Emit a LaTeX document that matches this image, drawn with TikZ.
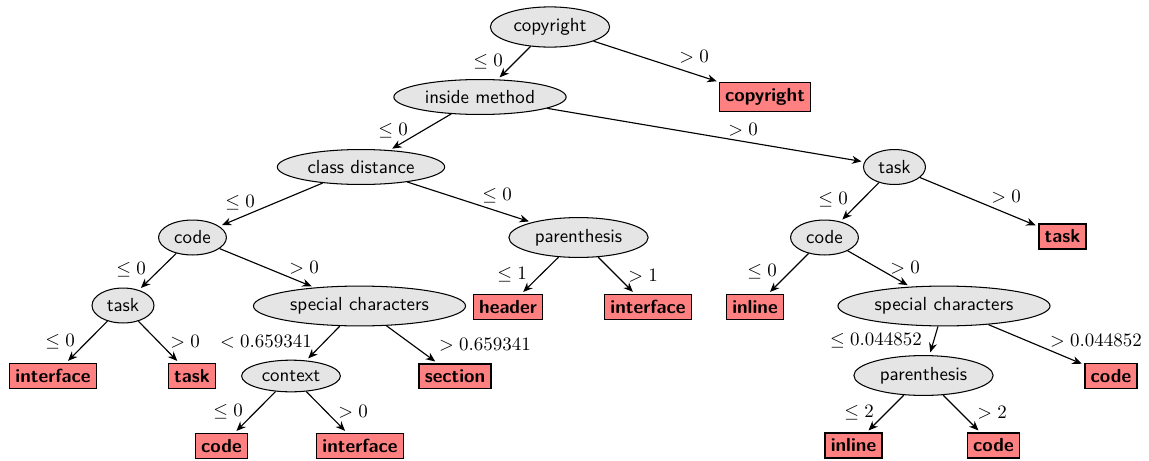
\documentclass[tikz,border=0pt]{standalone}
\usetikzlibrary{arrows.meta,shapes.geometric}
\begin{document}
\begin{tikzpicture}[x=0.528pt,y=-0.528pt,
  split/.style={ellipse,draw,line width=0.55pt,fill=black!10,font=\sffamily,inner sep=3pt},
  leaf/.style={rectangle,draw,line width=0.7pt,fill=red!50,font=\sffamily\bfseries,inner sep=3pt},
  branch/.style={-{Stealth[length=5pt,width=4.2pt]},line width=0.6pt,shorten >=1.5pt},
  cond/.style={inner sep=0pt}]
\useasboundingbox (0,0) rectangle (1149,461);

% decision nodes
\node[split] (root) at (550,27) {copyright};
\node[split] (inside) at (480,97) {inside method};
\node[split] (classd) at (361,167) {class distance};
\node[split] (taskR) at (894.5,167) {task};
\node[split] (codeL) at (192.5,237.5) {code};
\node[split] (parM) at (578.5,237.5) {parenthesis};
\node[split] (codeR) at (824.5,237.5) {code};
\node[split] (taskL) at (123,305.5) {task};
\node[split] (specL) at (359.5,306) {special characters};
\node[split] (specR) at (944,306) {special characters};
\node[split] (ctx) at (291,376) {context};
\node[split] (parR) at (923.5,375.5) {parenthesis};

% leaves
\node[leaf] (lCopy) at (765,97) {copyright};
\node[leaf] (lTaskR) at (1062.5,236.5) {task};
\node[leaf] (lHeader) at (508,307) {header};
\node[leaf] (lIfaceM) at (648,307) {interface};
\node[leaf] (lInlineU) at (755,307) {inline};
\node[leaf] (lIfaceL) at (53,376) {interface};
\node[leaf] (lTaskL) at (192,376) {task};
\node[leaf] (lSection) at (455,376) {section};
\node[leaf] (lCodeU) at (1111,376) {code};
\node[leaf] (lCodeL) at (221.5,446) {code};
\node[leaf] (lIfaceB) at (360,446) {interface};
\node[leaf] (lInlineB) at (853.5,445.5) {inline};
\node[leaf] (lCodeB) at (993.5,445.5) {code};

% branches
\draw[branch] (root) -- (inside);
\draw[branch] (root) -- (lCopy);
\draw[branch] (inside) -- (classd);
\draw[branch] (inside) -- (taskR);
\draw[branch] (classd) -- (codeL);
\draw[branch] (classd) -- (parM);
\draw[branch] (codeL) -- (taskL);
\draw[branch] (codeL) -- (specL);
\draw[branch] (parM) -- (lHeader);
\draw[branch] (parM) -- (lIfaceM);
\draw[branch] (taskR) -- (codeR);
\draw[branch] (taskR) -- (lTaskR);
\draw[branch] (codeR) -- (lInlineU);
\draw[branch] (codeR) -- (specR);
\draw[branch] (taskL) -- (lIfaceL);
\draw[branch] (taskL) -- (lTaskL);
\draw[branch] (specL) -- (ctx);
\draw[branch] (specL) -- (lSection);
\draw[branch] (ctx) -- (lCodeL);
\draw[branch] (ctx) -- (lIfaceB);
\draw[branch] (specR) -- (parR);
\draw[branch] (specR) -- (lCodeU);
\draw[branch] (parR) -- (lInlineB);
\draw[branch] (parR) -- (lCodeB);

% split conditions
\node[cond] (c1) at (488,62) {$\leq 0$};
\node[cond] (c2) at (694,57) {$> 0$};
\node[cond] (c3) at (393,131) {$\leq 0$};
\node[cond] (c4) at (743,130) {$> 0$};
\node[cond] (c5) at (240,203) {$\leq 0$};
\node[cond] (c6) at (497,196) {$\leq 0$};
\node[cond] (c7) at (131,270) {$\leq 0$};
\node[cond] (c8) at (304,268) {$> 0$};
\node[cond] (c9) at (512,275) {$\leq 1$};
\node[cond] (c10) at (643,276) {$> 1$};
\node[cond] (c11) at (833,200) {$\leq 0$};
\node[cond] (c12) at (1006,197) {$> 0$};
\node[cond] (c13) at (762,272) {$\leq 0$};
\node[cond] (c14) at (905,268) {$> 0$};
\node[cond] (c15) at (60,342) {$\leq 0$};
\node[cond] (c16) at (185,342) {$> 0$};
\node[cond] (c17) at (266,342) {$< 0.659341$};
\node[cond] (c18) at (485,345) {$> 0.659341$};
\node[cond] (c19) at (228,412) {$\leq 0$};
\node[cond] (c20) at (353,412) {$> 0$};
\node[cond] (c21) at (876,341) {$\leq 0.044852$};
\node[cond] (c22) at (1096,341) {$> 0.044852$};
\node[cond] (c23) at (859,413) {$\leq 2$};
\node[cond] (c24) at (992,413) {$> 2$};
\end{tikzpicture}
\end{document}
